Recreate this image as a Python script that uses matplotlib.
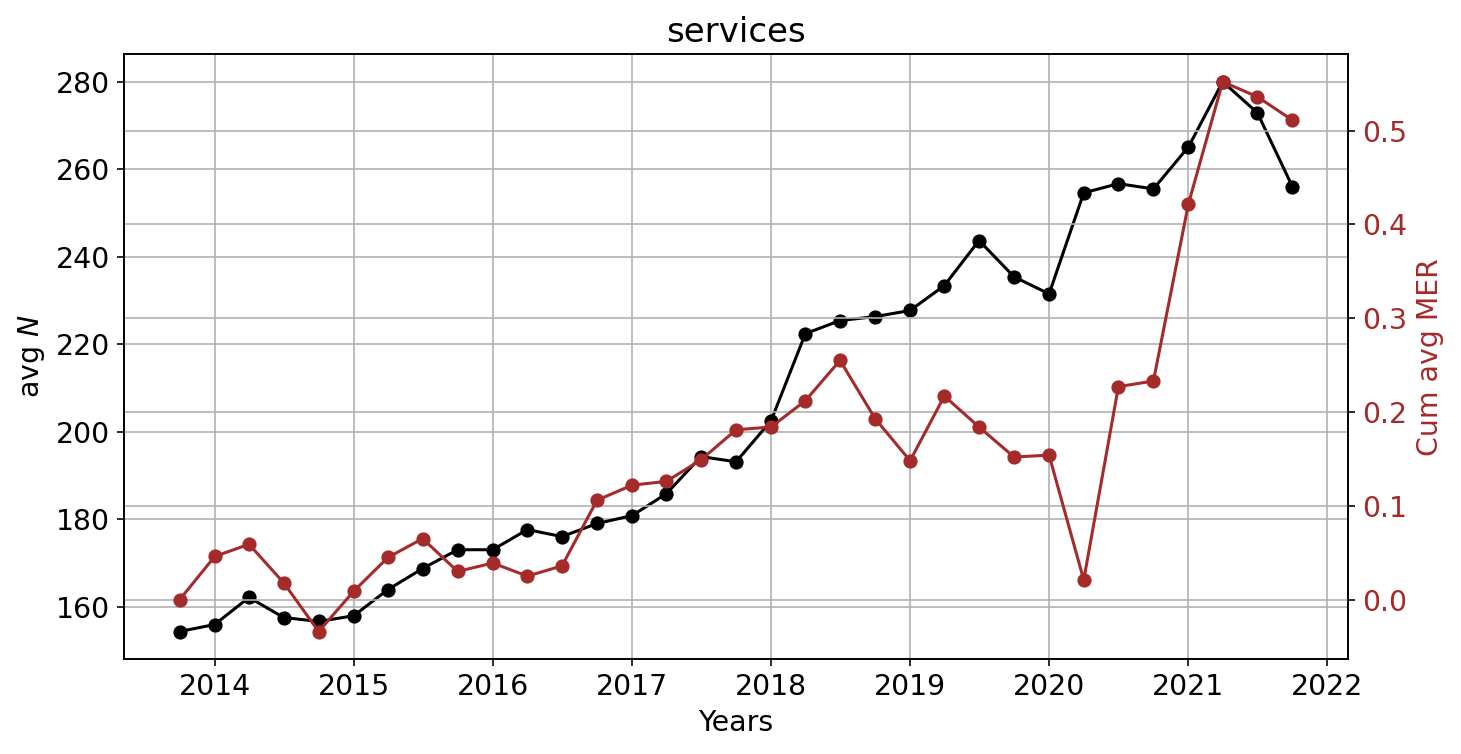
import numpy as np
import pandas as pd
import matplotlib
matplotlib.use('Agg')
import matplotlib.pyplot as plt

quarters = ['2013-10-01',
            '2014-01-01', '2014-04-01', '2014-07-01', '2014-10-01',
            '2015-01-01', '2015-04-01', '2015-07-01', '2015-10-01',
            '2016-01-01', '2016-04-01', '2016-07-01', '2016-10-01',
            '2017-01-01', '2017-04-01', '2017-07-01', '2017-10-01',
            '2018-01-01', '2018-04-01', '2018-07-01', '2018-10-01',
            '2019-01-01', '2019-04-01', '2019-07-01', '2019-10-01',
            '2020-01-01', '2020-04-01', '2020-07-01', '2020-10-01',
            '2021-01-01', '2021-04-01', '2021-07-01', '2021-10-01']

avgN = [154.3,
        155.9, 162.1, 157.5, 156.6,
        157.9, 163.9, 168.7, 173.0,
        173.0, 177.6, 176.0, 179.0,
        180.8, 185.8, 194.3, 193.1,
        202.5, 222.4, 225.4, 226.3,
        227.7, 233.4, 243.7, 235.4,
        231.5, 254.6, 256.7, 255.5,
        265.1, 280.0, 272.9, 256.0]

cumMER = [0.000,
          0.046, 0.059, 0.018, -0.034,
          0.009, 0.045, 0.065, 0.030,
          0.039, 0.025, 0.036, 0.106,
          0.122, 0.126, 0.149, 0.181,
          0.184, 0.212, 0.255, 0.193,
          0.148, 0.217, 0.184, 0.152,
          0.154, 0.021, 0.227, 0.233,
          0.422, 0.552, 0.536, 0.511]

dates = pd.to_datetime(quarters)
merColor = 'brown'

plt.rcParams['font.size'] = 14

fig, ax = plt.subplots(figsize=(10, 5.161), dpi=146.1)
fig.subplots_adjust(left=0.0849, right=0.9227, bottom=0.126, top=0.928)

ax.plot(dates, avgN, color='black', marker='o')
ax.set_ylabel('avg $N$')
ax.set_xlabel('Years')
ax.set_title('services')
ax.grid(True)

ax2 = ax.twinx()
ax2.plot(dates, cumMER, color=merColor, marker='o')
ax2.set_ylabel('Cum avg MER', color=merColor)
ax2.tick_params(axis='y', labelcolor=merColor)
ax2.grid(True)

fig.savefig('out.png', dpi=146.1)
